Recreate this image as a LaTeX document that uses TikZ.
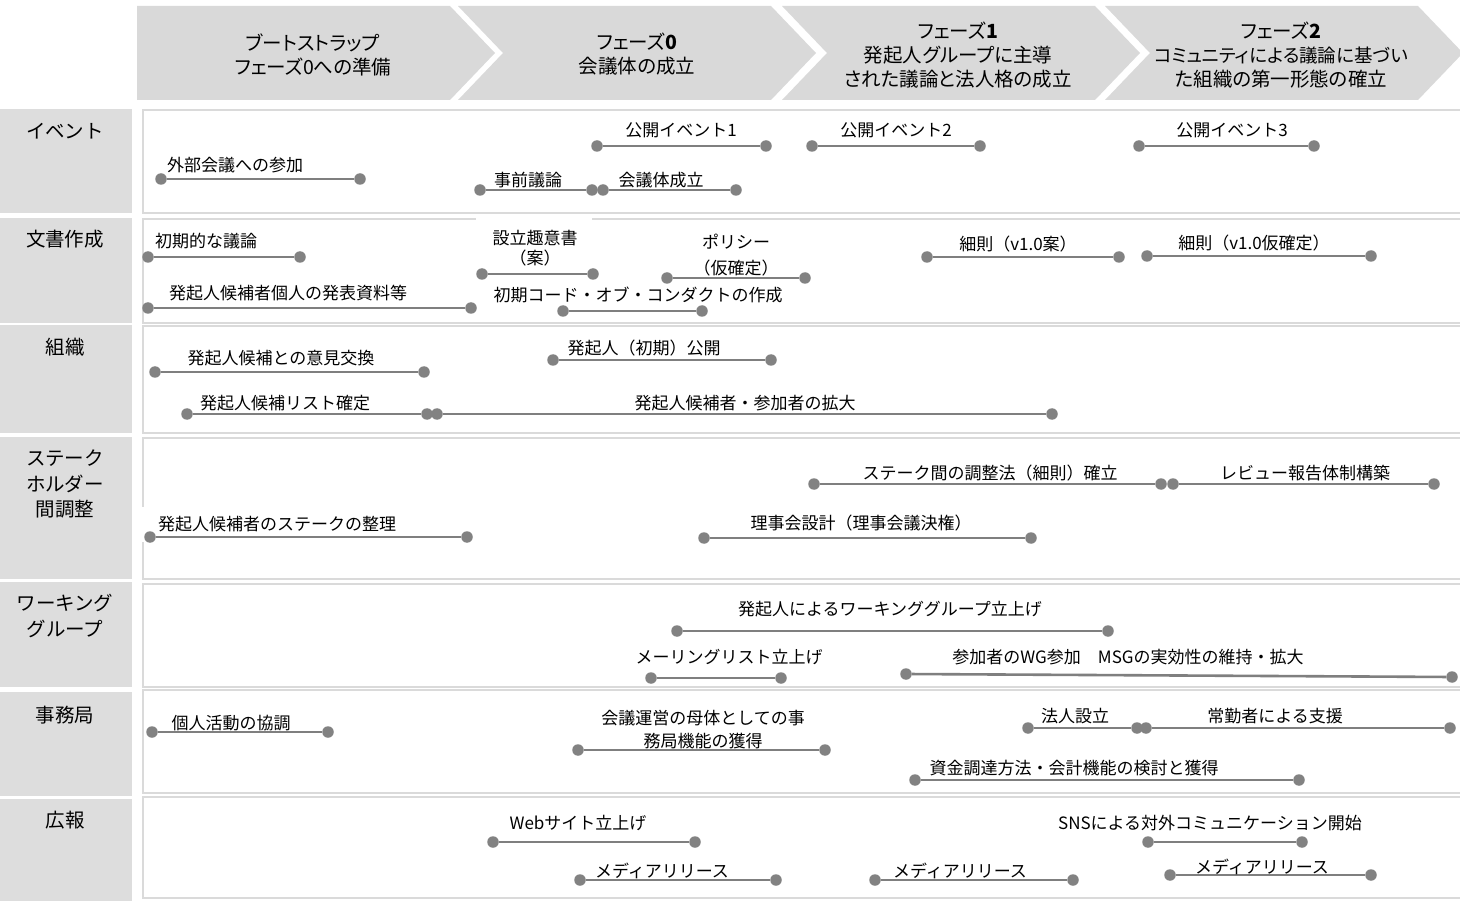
\documentclass[tikz,border=0pt]{standalone}
\usepackage{fontspec}
\setmainfont{Noto Sans CJK JP}
\newfontfamily\hdrfont[RawFeature=+palt]{Noto Sans CJK JP}
\definecolor{chevgray}{HTML}{D9D9D9}
\definecolor{rowgray}{HTML}{DDDDDD}
\definecolor{lanegray}{HTML}{DADADA}
\definecolor{bargray}{HTML}{7F7F7F}
\definecolor{dotgray}{HTML}{828282}
\definecolor{txt}{HTML}{000000}
\tikzset{
  chev/.style={fill=chevgray, draw=none},
  hdr/.style={font=\hdrfont\fontsize{19.5}{24}\selectfont, align=center, text=txt, inner sep=0pt},
  rowbox/.style={fill=rowgray, draw=none},
  lane/.style={draw=lanegray, line width=1.8pt, fill=white},
  rowlbl/.style={font=\fontsize{19.5}{25.5}\selectfont, align=center, text=txt, inner sep=0pt},
  dot/.style={circle, fill=dotgray, minimum size=11.5pt, inner sep=0pt},
  barline/.style={draw=bargray, line width=2.6pt},
  lbl/.style={font=\fontsize{17}{20}\selectfont, align=center, text=txt, inner sep=0pt},
}
\newcommand\tlbar[8]{%
  \node[dot] (#1a) at (#2,#3) {};
  \node[dot] (#1b) at (#4,#5) {};
  \draw[barline] (#1a) -- (#1b);
  \node[lbl] (#1t) at (#6,#7) {#8};
}
\begin{document}
\begin{tikzpicture}[x=1pt,y=-1pt]
\useasboundingbox (0,0) rectangle (1460,901);
% header chevrons
\fill[chev] (137,6) -- (450,6) -- (495,53) -- (450,100) -- (137,100) -- cycle;
\fill[chev] (458,6) -- (771,6) -- (816,53) -- (771,100) -- (458,100) -- (503,53) -- cycle;
\fill[chev] (782,6) -- (1095,6) -- (1140,53) -- (1095,100) -- (782,100) -- (827,53) -- cycle;
\fill[chev] (1105,6) -- (1418,6) -- (1463,53) -- (1418,100) -- (1105,100) -- (1150,53) -- cycle;
\node[hdr] (h0) at (313,54.5) {ブートストラップ\\フェーズ0への準備};
\node[hdr] (h1) at (637,54.5) {フェーズ\textbf{0}\\会議体の成立};
\node[hdr] (h2) at (958,55.5) {フェーズ\textbf{1}\\発起人グループに主導\\された議論と法人格の成立};
\node[hdr] (h3) at (1281,55.5) {フェーズ\textbf{2}\\{\fontsize{18.5}{24}\selectfont コミュニティによる議論に基づい}\\た組織の第一形態の確立};
% row label boxes
\fill[rowbox] (0,109) rectangle (132,213);
\fill[rowbox] (0,218) rectangle (132,323);
\fill[rowbox] (0,325) rectangle (132,433);
\fill[rowbox] (0,437) rectangle (132,579);
\fill[rowbox] (0,582) rectangle (132,687);
\fill[rowbox] (0,692) rectangle (132,796);
\fill[rowbox] (0,799) rectangle (132,901);
\node[rowlbl] (r1) at (65,131) {イベント};
\node[rowlbl] (r2) at (65,239) {文書作成};
\node[rowlbl] (r3) at (65,347) {組織};
\node[rowlbl] (r4) at (65,484) {ステーク\\ホルダー\\間調整};
\node[rowlbl] (r5) at (65,616) {ワーキング\\グループ};
\node[rowlbl] (r6) at (65,715) {事務局};
\node[rowlbl] (r7) at (65,820) {広報};
% lanes
\draw[lane] (143,110) rectangle (1470,213);
\draw[lane] (143,219) rectangle (1470,323);
\draw[lane] (143,326) rectangle (1470,433);
\draw[lane] (143,438) rectangle (1470,579);
\draw[lane] (143,584) rectangle (1470,687);
\draw[lane] (143,690) rectangle (1470,793);
\draw[lane] (143,797) rectangle (1470,898);
\fill[white] (476,215.5) rectangle (592,222);
\fill[white] (140,507) rectangle (146,542);
% イベント
\tlbar{ev0}{161}{179}{360}{179}{235}{165}{外部会議への参加}
\tlbar{ev1}{597}{146}{766}{146}{681}{130}{公開イベント1}
\tlbar{ev2}{812}{146}{980}{146}{896}{130}{公開イベント2}
\tlbar{ev3}{1139}{146}{1314}{146}{1232}{130}{公開イベント3}
\tlbar{evp}{480}{190}{592}{190}{528}{180}{事前議論}
\tlbar{evs}{603}{190}{736}{190}{661}{180}{会議体成立}
% 文書作成
\tlbar{d1}{148}{257}{300}{257}{206}{241}{初期的な議論}
\tlbar{d2}{148}{308}{471}{308}{288}{293}{発起人候補者個人の発表資料等}
\tlbar{d3}{482}{274}{593}{274}{535}{248}{設立趣意書\\（案）}
\tlbar{d4}{667}{278}{805}{278}{736}{255}{ポリシー\\[6pt]（仮確定）}
\tlbar{d5}{563}{311}{702}{311}{638}{295}{初期コード・オブ・コンダクトの作成}
\tlbar{d6}{927}{257}{1119}{257}{1018}{244}{細則（v1.0案）}
\tlbar{d7}{1147}{256}{1371}{256}{1254}{243}{細則（v1.0仮確定）}
% 組織
\tlbar{o1}{155}{372}{424}{372}{281}{358}{発起人候補との意見交換}
\tlbar{o2}{187}{414}{427}{414}{285}{403}{発起人候補リスト確定}
\tlbar{o3}{437}{414}{1052}{414}{745}{403}{発起人候補者・参加者の拡大}
\tlbar{o4}{553}{360}{771}{360}{644}{348}{発起人（初期）公開}
% ステークホルダー間調整
\tlbar{s1}{150}{537}{467}{537}{277}{524}{発起人候補者のステークの整理}
\tlbar{s2}{814}{484}{1161}{484}{990}{473}{ステーク間の調整法（細則）確立}
\tlbar{s3}{1173}{484}{1434}{484}{1305}{473}{レビュー報告体制構築}
\tlbar{s4}{704}{538}{1031}{538}{861}{523}{理事会設計（理事会議決権）}
% ワーキンググループ
\tlbar{w1}{677}{631}{1108}{631}{890}{609}{発起人によるワーキンググループ立上げ}
\tlbar{w2}{651}{678}{781}{678}{729}{657}{メーリングリスト立上げ}
\tlbar{w3}{906}{674}{1452}{677}{1128}{657}{参加者のWG参加　MSGの実効性の維持・拡大}
% 事務局
\tlbar{j1}{152}{732}{328}{732}{231}{723}{個人活動の協調}
\tlbar{j2}{578}{750}{825}{750}{703}{729.5}{会議運営の母体としての事\\[3pt]務局機能の獲得}
\tlbar{j3}{1028}{728}{1137}{728}{1075}{716}{法人設立}
\tlbar{j4}{1146}{728}{1450}{728}{1275}{716}{常勤者による支援}
\tlbar{j5}{915}{780}{1299}{780}{1074}{768}{資金調達方法・会計機能の検討と獲得}
% 広報
\tlbar{k1}{493}{842}{695}{842}{578}{823}{Webサイト立上げ}
\tlbar{k2}{580}{880}{776}{880}{662}{871}{メディアリリース}
\tlbar{k3}{875}{880}{1073}{880}{960}{871}{メディアリリース}
\tlbar{k4}{1170}{875}{1371}{875}{1262}{867}{メディアリリース}
\tlbar{k5}{1148}{842}{1302}{842}{1210}{823}{SNSによる対外コミュニケーション開始}
\end{tikzpicture}
\end{document}
